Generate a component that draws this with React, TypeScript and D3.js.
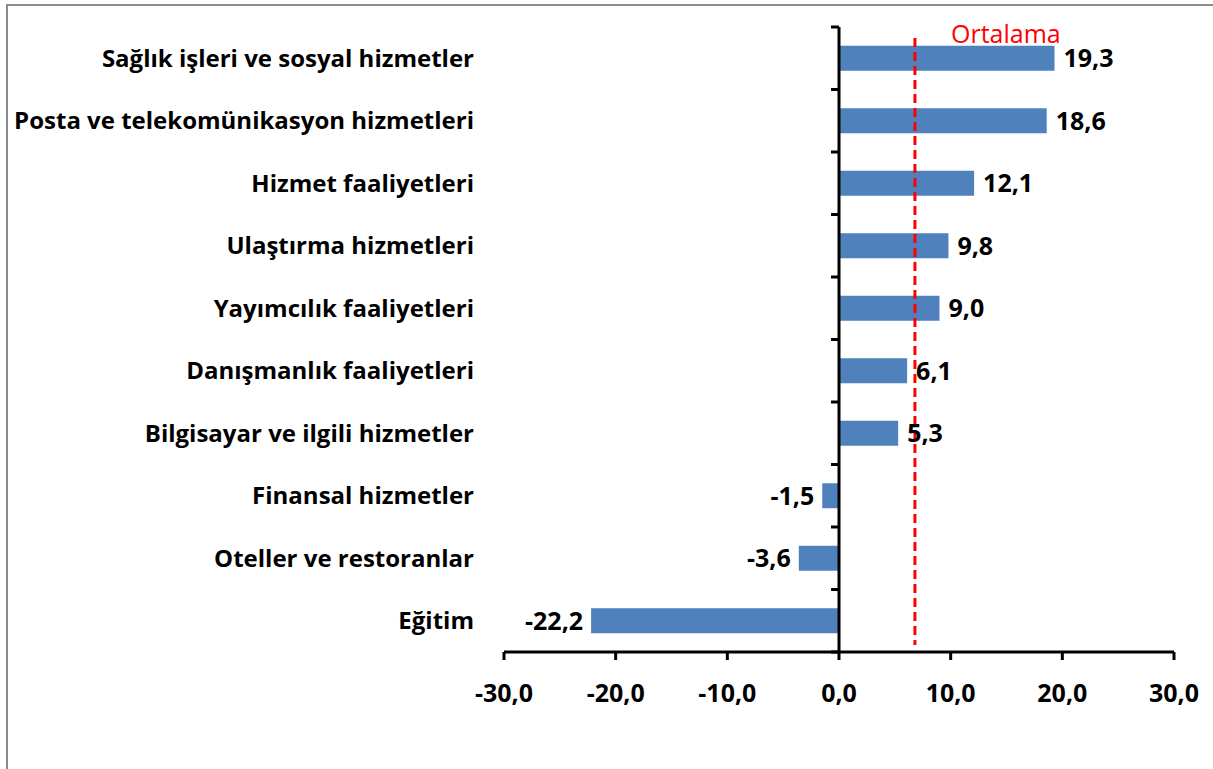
import React, { useEffect, useRef } from "react";
import * as d3 from "d3";

const categories = [
  "Sağlık işleri ve sosyal hizmetler",
  "Posta ve telekomünikasyon hizmetleri",
  "Hizmet faaliyetleri",
  "Ulaştırma hizmetleri",
  "Yayımcılık faaliyetleri",
  "Danışmanlık faaliyetleri",
  "Bilgisayar ve ilgili hizmetler",
  "Finansal hizmetler",
  "Oteller ve restoranlar",
  "Eğitim",
];
const values = [19.3, 18.6, 12.1, 9.8, 9.0, 6.1, 5.3, -1.5, -3.6, -22.2];
const xTicks = [-30, -20, -10, 0, 10, 20, 30];
const average = 6.8;
const averageLabel = "Ortalama";

const W = 1213;
const H = 769;
const FONT = "'Open Sans', 'Liberation Sans', sans-serif";
const fmt = (v: number) => v.toFixed(1).replace(".", ",");

function App() {
  const ref = useRef<SVGSVGElement | null>(null);

  useEffect(() => {
    if (!ref.current) return;
    const svg = d3.select(ref.current);
    svg.selectAll("*").remove();

    const x = d3.scaleLinear().domain([-30, 30]).range([504, 1174]);
    const band = d3.scaleBand().domain(categories).range([27, 652]);

    // outer border
    svg.append("rect")
      .attr("x", 7).attr("y", 5).attr("width", W + 20).attr("height", H + 20)
      .attr("fill", "none").attr("stroke", "#8c8c8c").attr("stroke-width", 2);

    // bars
    svg.selectAll("rect.bar")
      .data(values)
      .join("rect")
      .attr("class", "bar")
      .attr("x", (d) => x(Math.min(0, d)))
      .attr("width", (d) => Math.abs(x(d) - x(0)))
      .attr("y", (_, i) => band(categories[i])! + band.bandwidth() / 2 - 12.5)
      .attr("height", 25)
      .attr("fill", "#4F81BD");

    // average line
    svg.append("line")
      .attr("x1", x(average)).attr("x2", x(average))
      .attr("y1", 38).attr("y2", 645)
      .attr("stroke", "#ff0000").attr("stroke-width", 3)
      .attr("stroke-dasharray", "9,5");

    svg.append("text")
      .attr("x", 951).attr("y", 43)
      .attr("font-family", FONT).attr("font-size", 25)
      .attr("fill", "#ff0000")
      .text(averageLabel);

    // value labels
    svg.selectAll("text.val")
      .data(values)
      .join("text")
      .attr("class", "val")
      .attr("x", (d) => (d >= 0 ? x(d) + 9 : x(d) - 8))
      .attr("y", (_, i) => band(categories[i])! + band.bandwidth() / 2)
      .attr("dy", "0.35em")
      .attr("text-anchor", (d) => (d >= 0 ? "start" : "end"))
      .attr("font-family", FONT).attr("font-weight", "bold").attr("font-size", 25)
      .attr("fill", "#000")
      .text((d) => fmt(d));

    // category labels
    svg.selectAll("text.cat")
      .data(categories)
      .join("text")
      .attr("class", "cat")
      .attr("x", 474)
      .attr("y", (d) => band(d)! + band.bandwidth() / 2)
      .attr("dy", "0.35em")
      .attr("text-anchor", "end")
      .attr("font-family", FONT).attr("font-weight", "bold").attr("font-size", 24)
      .attr("fill", "#000")
      .text((d) => d);

    // y axis with ticks at band boundaries
    const boundaries = categories.map((c) => band(c)!).concat([652]);
    svg.append("line")
      .attr("x1", x(0)).attr("x2", x(0)).attr("y1", 27).attr("y2", 652)
      .attr("stroke", "#000").attr("stroke-width", 3);
    svg.selectAll("line.ytick")
      .data(boundaries)
      .join("line")
      .attr("class", "ytick")
      .attr("x1", x(0) - 8).attr("x2", x(0))
      .attr("y1", (d) => d).attr("y2", (d) => d)
      .attr("stroke", "#000").attr("stroke-width", 3);

    // x axis
    svg.append("line")
      .attr("x1", x(-30)).attr("x2", x(30)).attr("y1", 652).attr("y2", 652)
      .attr("stroke", "#000").attr("stroke-width", 3);
    svg.selectAll("line.xtick")
      .data(xTicks)
      .join("line")
      .attr("class", "xtick")
      .attr("x1", (d) => x(d)).attr("x2", (d) => x(d))
      .attr("y1", 652).attr("y2", 660)
      .attr("stroke", "#000").attr("stroke-width", 3);
    svg.selectAll("text.xlab")
      .data(xTicks)
      .join("text")
      .attr("class", "xlab")
      .attr("x", (d) => x(d))
      .attr("y", 693)
      .attr("dy", "0.35em")
      .attr("text-anchor", "middle")
      .attr("font-family", FONT).attr("font-weight", "bold").attr("font-size", 25)
      .attr("fill", "#000")
      .text((d) => fmt(d));
  }, []);

  return (
    <svg
      ref={ref}
      width={W}
      height={H}
      style={{ position: "absolute", left: 0, top: 0, background: "#fff" }}
    />
  );
}

export default App;
